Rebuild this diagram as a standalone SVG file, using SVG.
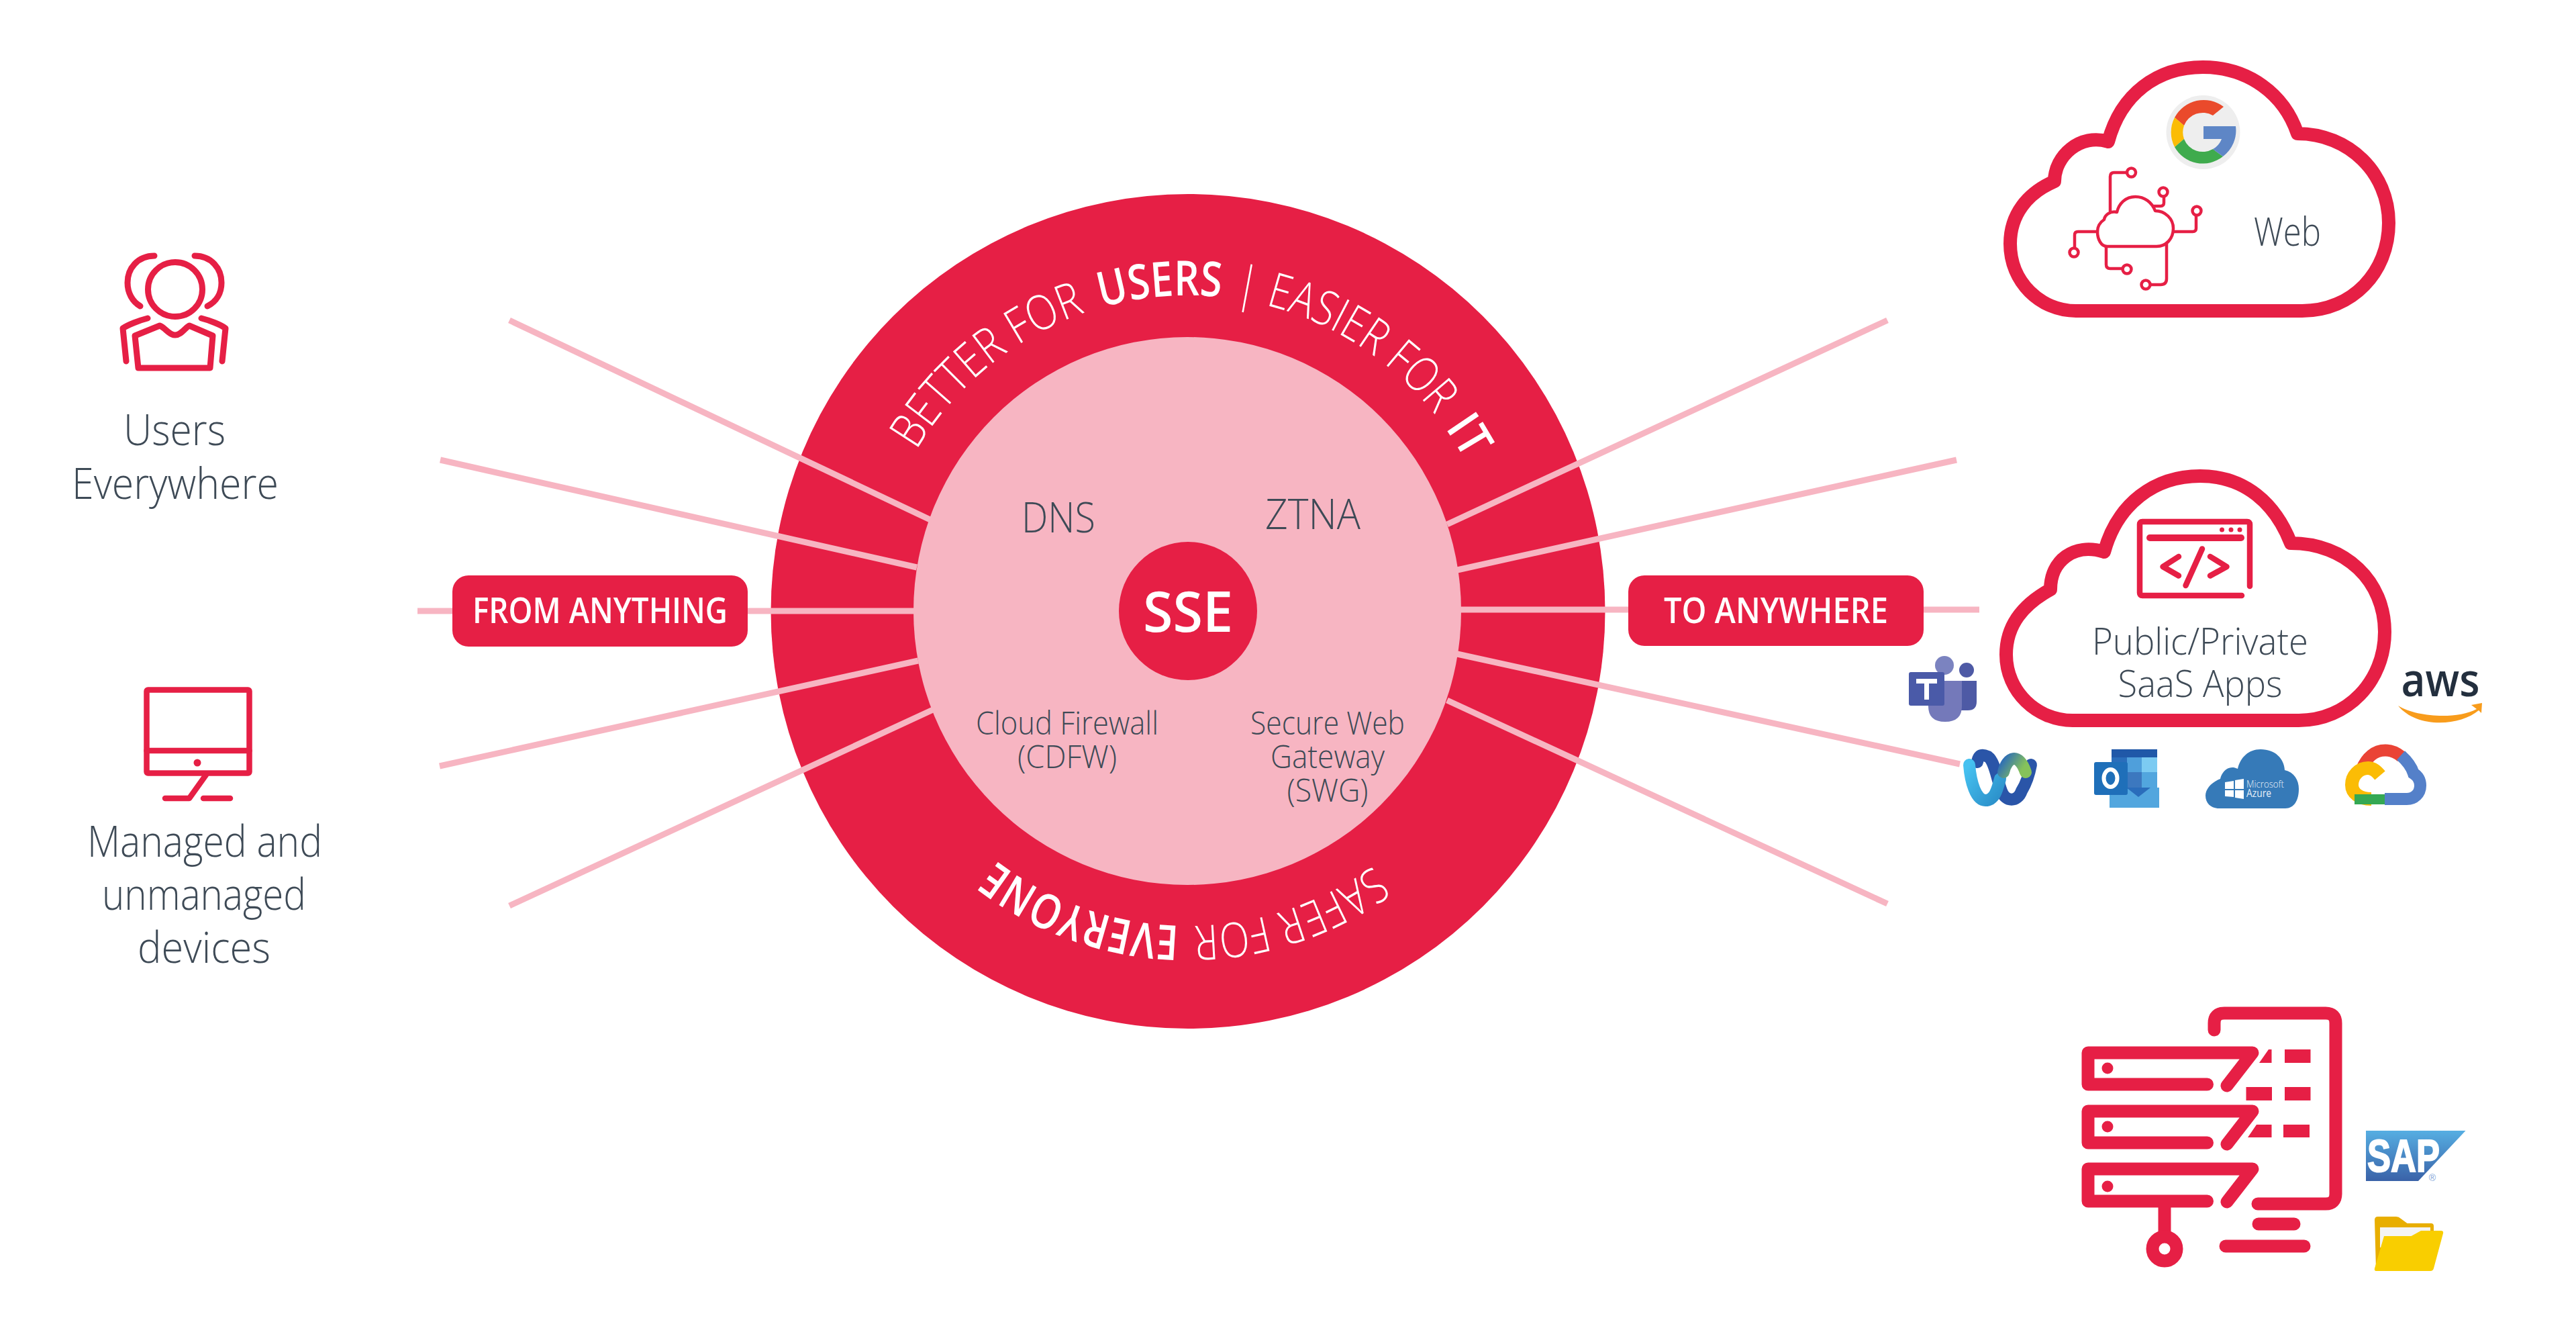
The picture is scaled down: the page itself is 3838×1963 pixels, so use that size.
<svg xmlns="http://www.w3.org/2000/svg" width="3838" height="1963" viewBox="0 0 3838 1963">
<style>
.t{font-family:"Open Sans","Liberation Sans",sans-serif;font-weight:300;fill:#3e4a56;text-anchor:middle}
.w{font-family:"Open Sans","Liberation Sans",sans-serif;fill:#fff;text-anchor:middle;font-weight:600}
.c{font-family:"Open Sans","Liberation Sans",sans-serif;font-weight:300;fill:#fff;font-size:72px}
.b{font-weight:600}
.i{fill:none;stroke:#e61f45;stroke-linecap:round;stroke-linejoin:round}
.f{fill:#e61f45}
.l{stroke:#f7b5c2;stroke-width:9;fill:none}
.g{fill:none;stroke-width:4.5;stroke:#e61f45;stroke-linecap:round;stroke-linejoin:round}
</style>
<defs>
<linearGradient id="sap" x1="0" y1="0" x2="0" y2="1"><stop offset="0" stop-color="#56aee2"/><stop offset="1" stop-color="#3a62a8"/></linearGradient>
<linearGradient id="wx" x1="0" y1="0" x2="1" y2="0.4"><stop offset="0" stop-color="#2f6fb5"/><stop offset="1" stop-color="#86c25a"/></linearGradient>
<linearGradient id="wc" x1="0" y1="0" x2="1" y2="1"><stop offset="0" stop-color="#45c1f0"/><stop offset="1" stop-color="#2b8fc9"/></linearGradient>
<path id="topArc" d="M1355 689.300A470 470 0 0 1 2199.400 718.800"/>
<path id="botArc" d="M2058.700 1279.600A469 469 0 0 1 1456.200 1258.500"/>
</defs>

<g id="ring"><circle cx="1770" cy="910.500" r="621.500" class="f"/></g>

<g id="connectors">
<path class="l" d="M759 477L1390 776"/>
<path class="l" d="M656 685L1366 845"/>
<path class="l" d="M622 910H1362"/>
<path class="l" d="M655 1141L1368 984"/>
<path class="l" d="M759 1349L1390 1057"/>
<path class="l" d="M2812 477L2156 781"/>
<path class="l" d="M2915 685L2171 849"/>
<path class="l" d="M2949 908H2176"/>
<path class="l" d="M2920 1138L2171 974"/>
<path class="l" d="M2812 1346L2156 1043"/>
</g>

<g id="core">
<circle cx="1769" cy="910" r="408" fill="#f7b5c2"/>
<circle cx="1770" cy="910" r="103" class="f"/>
<text class="w" x="1770" y="941" font-size="84" font-weight="500" textLength="134" lengthAdjust="spacingAndGlyphs">SSE</text>
</g>

<g id="ring-labels">
<text class="c"><textPath href="#topArc" startOffset="21" textLength="332" lengthAdjust="spacingAndGlyphs">BETTER FOR</textPath></text>
<text class="c b"><textPath href="#topArc" startOffset="378" textLength="180" lengthAdjust="spacingAndGlyphs">USERS</textPath></text>
<text class="c"><textPath href="#topArc" startOffset="578" textLength="354" lengthAdjust="spacingAndGlyphs">| EASIER FOR</textPath></text>
<text class="c b"><textPath href="#topArc" startOffset="956" textLength="57" lengthAdjust="spacingAndGlyphs">IT</textPath></text>
<text class="c"><textPath href="#botArc" startOffset="16" textLength="286" lengthAdjust="spacingAndGlyphs">SAFER FOR</textPath></text>
<text class="c b"><textPath href="#botArc" startOffset="324" textLength="294" lengthAdjust="spacingAndGlyphs">EVERYONE</textPath></text>
</g>

<g id="dns"><text class="t" x="1577" y="793" font-size="62" textLength="110" lengthAdjust="spacingAndGlyphs">DNS</text></g>
<g id="ztna"><text class="t" x="1956" y="788" font-size="62" textLength="142" lengthAdjust="spacingAndGlyphs">ZTNA</text></g>
<g id="cdfw">
<text class="t" x="1590" y="1094" font-size="47" textLength="272" lengthAdjust="spacingAndGlyphs">Cloud Firewall</text>
<text class="t" x="1590" y="1144" font-size="47" textLength="148" lengthAdjust="spacingAndGlyphs">(CDFW)</text>
</g>
<g id="swg">
<text class="t" x="1978" y="1094" font-size="47" textLength="230" lengthAdjust="spacingAndGlyphs">Secure Web</text>
<text class="t" x="1978" y="1144" font-size="47" textLength="170" lengthAdjust="spacingAndGlyphs">Gateway</text>
<text class="t" x="1978" y="1194" font-size="47" textLength="121" lengthAdjust="spacingAndGlyphs">(SWG)</text>
</g>

<g id="from-anything">
<rect x="674" y="857" width="440" height="106" rx="24" class="f"/>
<text class="w" x="894" y="928" font-size="52" font-weight="500" textLength="380" lengthAdjust="spacingAndGlyphs">FROM ANYTHING</text>
</g>
<g id="to-anywhere">
<rect x="2426" y="857" width="440" height="105" rx="24" class="f"/>
<text class="w" x="2646" y="928" font-size="52" font-weight="500" textLength="334" lengthAdjust="spacingAndGlyphs">TO ANYWHERE</text>
</g>

<g id="users">
<g class="i" stroke-width="9">
<circle cx="261" cy="431" r="40.500"/>
<path d="M230 381C205 381 190 400 190 421C190 436 197 449 209 456"/>
<path d="M290 381C315 381 330 400 330 421C330 436 323 449 309 456"/>
<path d="M238 485L201 500L206 548H313L317 500L282 485C276 488 270 499 261 499C252 499 246 488 238 485Z"/>
<path d="M220 474C208 477 190 484 183 489L188 538"/>
<path d="M300 474C312 477 330 484 336 489L331 538"/>
</g>
<text class="t" x="260" y="663" font-size="65" textLength="152" lengthAdjust="spacingAndGlyphs">Users</text>
<text class="t" x="261" y="743" font-size="65" textLength="308" lengthAdjust="spacingAndGlyphs">Everywhere</text>
</g>

<g id="devices">
<g class="i" stroke-width="8.500">
<rect x="218.500" y="1027.500" width="153" height="124" rx="2"/>
<path d="M218.500 1118H371.500"/>
<path d="M307 1154L282 1189H246"/>
<path d="M303 1189H343"/>
</g>
<circle cx="294" cy="1136" r="5.500" class="f"/>
<text class="t" x="305" y="1276" font-size="65" textLength="350" lengthAdjust="spacingAndGlyphs">Managed and</text>
<text class="t" x="304" y="1355" font-size="65" textLength="304" lengthAdjust="spacingAndGlyphs">unmanaged</text>
<text class="t" x="304" y="1434" font-size="65" textLength="198" lengthAdjust="spacingAndGlyphs">devices</text>
</g>

<g id="web">
<path class="i" stroke-width="20" d="M3093 463H3430C3505 463 3559 405 3559 332C3559 258 3500 199 3423 199C3403 140 3350 100 3282 100C3214 100 3160 140 3141 211C3100 198 3061 232 3061 270C3020 288 2995 320 2995 363C2995 420 3040 463 3093 463Z"/>
<circle cx="3282.500" cy="197" r="55" fill="#eee"/>
<path fill="#ea4a2b" d="M3313 159A49 49 0 0 0 3240 175L3254 187A30 30 0 0 1 3297 172Z"/>
<path fill="#fbbc05" d="M3240 175A48 48 0 0 0 3240 219L3254 207A30 30 0 0 1 3254 187Z"/>
<path fill="#3fab4d" d="M3240 219A48 48 0 0 0 3312 233L3297 222A30 30 0 0 1 3254 207Z"/>
<path fill="#5e86c6" d="M3312 233A48 48 0 0 0 3331 188H3283V207H3310A28 28 0 0 1 3297 222Z"/>
<path class="g" d="M3139 367H3213C3228 367 3238 355 3238 340C3238 326 3226 314 3211 314C3206 301 3195 293 3181.500 293C3167 293 3157 303 3154 316C3144 314 3136 320 3135 327C3129 331 3125 336 3125 345C3125 357 3131 367 3139 367Z"/>
<path class="g" d="M3144 315V263Q3144 257 3150 257H3169"/>
<path class="g" d="M3209 307H3219Q3224 307 3224 302V293"/>
<path class="g" d="M3238 345H3267Q3272 345 3272 340V322"/>
<path class="g" d="M3125 345H3096Q3091 345 3091 350V368"/>
<path class="g" d="M3138 367V394Q3138 400 3144 400H3162"/>
<path class="g" d="M3228 362V415Q3228 424 3219 424H3205"/>
<circle class="g" cx="3175.500" cy="257" r="6.500"/>
<circle class="g" cx="3223" cy="286" r="6.500"/>
<circle class="g" cx="3273" cy="314" r="6.500"/>
<circle class="g" cx="3090" cy="376" r="6.500"/>
<circle class="g" cx="3169" cy="401" r="6.500"/>
<circle class="g" cx="3197" cy="424" r="6.500"/>
<text class="t" x="3408" y="366" font-size="58" textLength="100" lengthAdjust="spacingAndGlyphs">Web</text>
</g>

<g id="saas">
<path class="i" stroke-width="20" d="M3088 1073H3425C3497 1073 3553 1015 3553 941C3553 866 3495 809 3413 809C3390 750 3345 709 3278 709C3210 709 3155 750 3135 822C3090 808 3055 835 3055 878C3015 900 2989 930 2989 975C2989 1030 3035 1073 3088 1073Z"/>
<g class="i" stroke-width="8.500">
<path d="M3352 873V781Q3352 777 3348 777H3192Q3188 777 3188 781V883Q3188 887 3192 887H3340"/>
<path d="M3203 801H3339" stroke-width="10"/>
<path d="M3246 829L3222.500 844L3246 857.500"/>
<path d="M3281 817.500L3256.500 872"/>
<path d="M3293 829L3317.500 844L3293 857.500"/>
</g>
<circle cx="3310.500" cy="789" r="3.500" class="f"/><circle cx="3324" cy="789" r="3.500" class="f"/><circle cx="3337" cy="789" r="3.500" class="f"/>
<text class="t" x="3278" y="975" font-size="55" textLength="322" lengthAdjust="spacingAndGlyphs">Public/Private</text>
<text class="t" x="3278" y="1038" font-size="55" textLength="245" lengthAdjust="spacingAndGlyphs">SaaS Apps</text>
</g>

<g id="teams">
<circle cx="2930" cy="998" r="11" fill="#4e5aa5"/>
<path d="M2920 1014H2945V1045Q2945 1058 2932 1058H2920Z" fill="#4e5aa5"/>
<circle cx="2897" cy="991" r="14" fill="#7b83c0"/>
<path d="M2873 1014H2923V1052Q2923 1075 2898 1075Q2873 1075 2873 1052Z" fill="#7479ba"/>
<rect x="2844" y="1001" width="53" height="50" rx="3" fill="#4a5aa8"/>
<path d="M2855 1011H2886V1018H2874V1042H2867V1018H2855Z" fill="#fff"/>
</g>

<g id="webex" fill="none" stroke-linecap="round">
<path d="M2946 1135C2948 1122 2955 1124 2962 1127C2972 1134 2975 1160 2982 1178C2988 1195 3006 1195 3012 1178C3020 1165 3024 1150 3026 1139" stroke="#2a55a8" stroke-width="18"/>
<path d="M2934 1139C2936 1165 2944 1192 2958 1192C2972 1192 2976 1175 2980 1160" stroke="url(#wc)" stroke-width="18"/>
<path d="M2985 1150C2990 1127 3008 1120 3018 1150" stroke="url(#wx)" stroke-width="18"/>
</g>

<g id="outlook">
<rect x="3146" y="1116" width="68" height="12" fill="#2058a8"/>
<rect x="3146" y="1128" width="23" height="22" fill="#2a6dbb"/><rect x="3169" y="1128" width="22" height="22" fill="#4f9fdb"/><rect x="3191" y="1128" width="23" height="22" fill="#7ccbf2"/>
<rect x="3146" y="1150" width="23" height="23" fill="#2a6dbb"/><rect x="3169" y="1150" width="22" height="23" fill="#3c78bf"/><rect x="3191" y="1150" width="23" height="23" fill="#52a6de"/>
<path d="M3143 1173H3217V1203H3143Z" fill="#52a6de"/>
<path d="M3168 1173H3204L3186 1187Z" fill="#2a6dbb"/>
<rect x="3120" y="1135" width="50" height="49" rx="3" fill="#1f6fb9"/>
<ellipse cx="3144.500" cy="1159" rx="10" ry="13" fill="none" stroke="#fff" stroke-width="6"/>
</g>

<g id="azure">
<path d="M3306 1204H3405C3418 1204 3425 1192 3425 1175C3425 1162 3418 1150 3404 1147C3403 1130 3390 1116 3368 1116C3350 1116 3338 1128 3334 1145C3320 1138 3310 1150 3308 1160C3295 1165 3286 1175 3286 1185C3286 1197 3295 1204 3306 1204Z" fill="#367ab8"/>
<path d="M3315 1165L3328 1163V1175H3315ZM3330 1162L3343 1160V1175H3330ZM3315 1177H3328V1187L3315 1186ZM3330 1177H3343V1190L3330 1188Z" fill="#fff"/>
<text x="3347" y="1173" font-family="Open Sans,sans-serif" font-size="15" font-weight="300" fill="#e8f0f8" textLength="56" lengthAdjust="spacingAndGlyphs">Microsoft</text>
<text x="3347" y="1187" font-family="Open Sans,sans-serif" font-size="16" fill="#e8f0f8" textLength="37" lengthAdjust="spacingAndGlyphs">Azure</text>
</g>

<g id="google-cloud" fill="none">
<path d="M3519 1145C3526 1128 3538 1117.500 3554 1117.500C3565 1117.500 3572 1122 3578 1127" stroke="#ea4335" stroke-width="18"/>
<path d="M3577 1125C3586 1133 3593 1142 3596 1152C3604 1157 3606 1163 3606 1170C3606 1182 3597 1190 3586 1190H3553" stroke="#5480c9" stroke-width="18"/>
<path d="M3533 1190C3515 1190 3504 1181 3504 1169C3504 1155 3515 1144 3528 1144C3536 1144 3541 1149 3546 1155" stroke="#fbbc05" stroke-width="20"/>
<rect x="3508" y="1183" width="45" height="15" fill="#34a853"/>
</g>

<g id="aws">
<text x="3636" y="1037" font-family="Open Sans,sans-serif" font-size="68" font-weight="600" fill="#232f3e" text-anchor="middle" textLength="117" lengthAdjust="spacingAndGlyphs">aws</text>
<path d="M3573 1051C3600 1068 3660 1072 3690 1056L3682 1050L3698 1047L3697 1062L3693 1058C3665 1082 3600 1085 3573 1051Z" fill="#f89c1c"/>
</g>

<g id="servers">
<g class="i" stroke-width="19">
<path d="M3299 1534V1524Q3299 1509 3314 1509H3465Q3480 1509 3480 1524V1778Q3480 1793 3465 1793H3364"/>
<path d="M3288.500 1615H3111V1568H3356L3318 1617"/>
<path d="M3288.500 1702H3111V1655H3356L3318 1704"/>
<path d="M3288.500 1789H3111V1741H3356L3318 1790"/>
<path d="M3225 1795V1835" stroke-linecap="butt"/>
<circle cx="3225" cy="1860" r="18"/>
<path d="M3365 1823H3418"/>
<path d="M3316 1856H3433"/>
</g>
<circle cx="3140" cy="1591" r="8.500" class="f"/><circle cx="3140" cy="1678" r="8.500" class="f"/><circle cx="3140" cy="1767" r="8.500" class="f"/>
<path class="f" d="M3380 1563H3384.500V1583H3366ZM3404 1563H3442.500V1583H3404ZM3346.500 1619H3385V1639H3346.500ZM3404 1619H3442.500V1639H3404ZM3362 1675H3384.500V1694H3349ZM3402 1675H3441V1694H3402Z"/>
</g>

<g id="sap">
<path d="M3525 1684H3673.500L3603 1759H3525Z" fill="url(#sap)"/>
<text x="3527" y="1745" font-family="Liberation Sans,sans-serif" font-size="68" font-weight="700" fill="#fff" stroke="#fff" stroke-width="2" textLength="108" lengthAdjust="spacingAndGlyphs">SAP</text>
<text x="3624" y="1759" font-family="Liberation Sans,sans-serif" font-size="14" fill="#7b9fd6" text-anchor="middle">®</text>
</g>

<g id="folder">
<path d="M3538 1817Q3538 1812 3543 1812H3570Q3574 1812 3577 1815L3586.500 1822H3622Q3626 1822 3626 1826V1860L3540 1890Z" fill="#e8ae00"/>
<rect x="3546" y="1828" width="75" height="30" fill="#f4f4f4"/>
<path d="M3552 1841H3592.500L3607 1833H3637Q3641 1833 3640 1837L3626 1889Q3625 1893 3621 1893H3541Q3537 1893 3538 1889Z" fill="#f9ce00"/>
</g>
</svg>
